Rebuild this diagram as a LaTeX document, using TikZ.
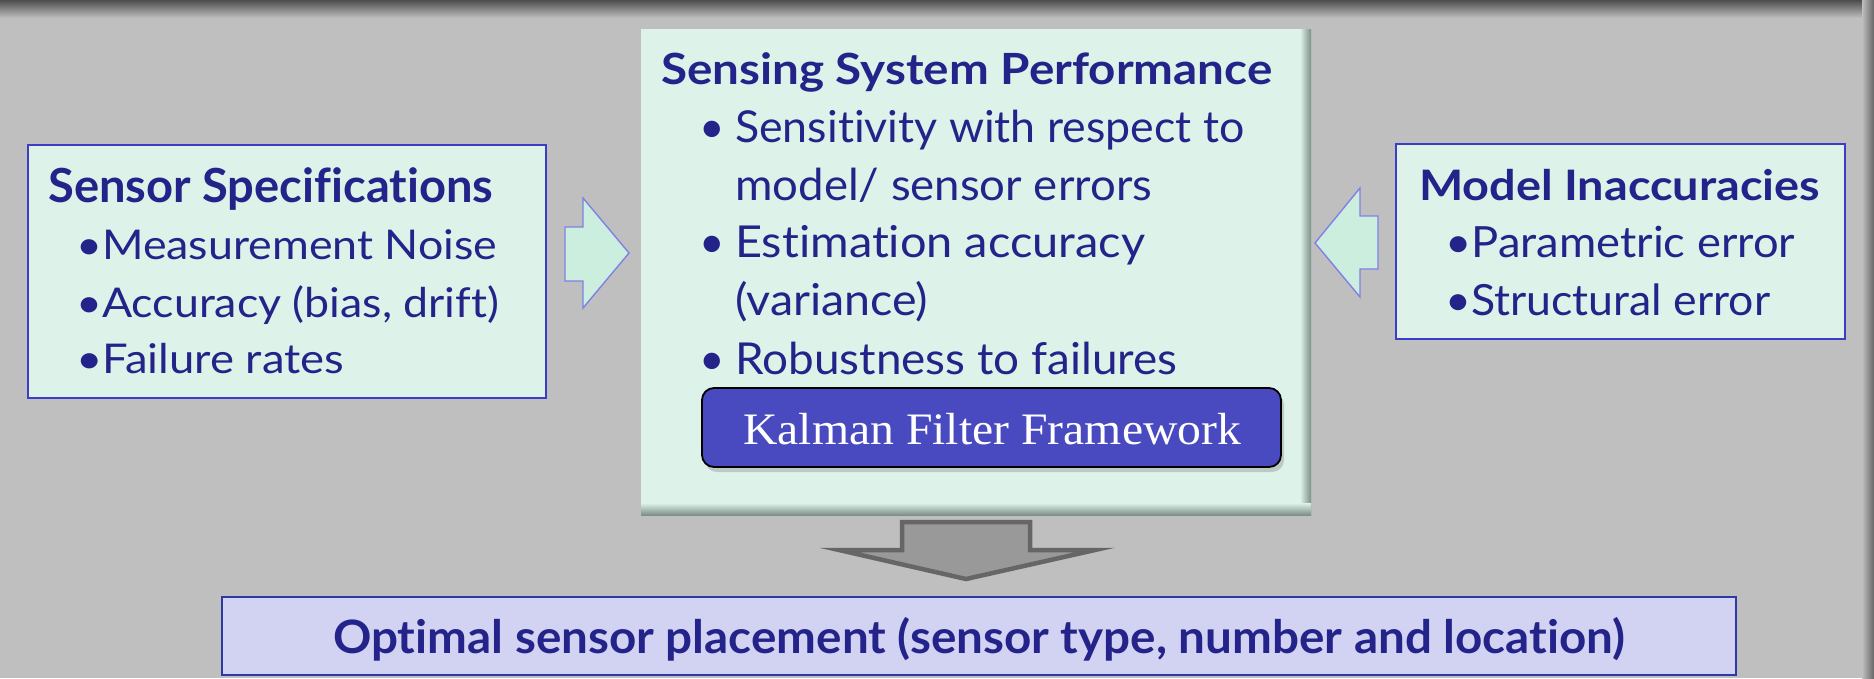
\documentclass[tikz,border=0pt]{standalone}
\usepackage{fontspec}
\usepackage{graphicx}
\setmainfont[Ligatures=NoCommon]{Lato}
\newfontfamily\kalfont{Liberation Serif}
\usetikzlibrary{shadows}
\definecolor{bg}{HTML}{BFBFBF}
\definecolor{navy}{HTML}{23238A}
\definecolor{mint}{HTML}{DDF2E9}
\definecolor{mintdark}{HTML}{7D8F86}
\definecolor{boxline}{HTML}{3C3CC8}
\definecolor{arrfill}{HTML}{CCEEDF}
\definecolor{arrline}{HTML}{8080E6}
\definecolor{kal}{HTML}{4A4AC0}
\definecolor{botfill}{HTML}{D2D2F3}
\definecolor{botline}{HTML}{2B3BA3}
\definecolor{darr}{HTML}{999999}
\definecolor{darrline}{HTML}{666666}
\newcommand\fw[2]{\resizebox{#1pt}{\height}{#2}}
\tikzset{
  sidebox/.style={draw=boxline, line width=1.6pt, fill=mint, inner sep=0pt},
  txt/.style={anchor=base west, inner sep=0pt, text=navy, font=\fontsize{44}{50}\selectfont},
  ttl/.style={txt, font=\fontsize{43}{50}\selectfont\bfseries},
  blockarrow/.style={fill=arrfill, draw=arrline, line width=1.4pt},
}
\begin{document}
\begin{tikzpicture}[x=1pt,y=-1pt]
\fill[bg] (0,0) rectangle (1874,678);
\useasboundingbox (0,0) rectangle (1874,678);
\shade[top color=black!70, bottom color=bg] (0,0) rectangle (1874,18);
\shade[left color=bg, right color=black!60] (1862,0) rectangle (1874,678);

% left box
\node[sidebox, minimum width=518pt, minimum height=253pt] (spec) at (287,271.5) {};
\node[ttl, font=\fontsize{47}{50}\selectfont\bfseries] (specT) at (48,202) {\fw{445}{Sensor Specifications}};
\node[txt, font=\fontsize{41}{50}\selectfont] (spec1) at (76,259) {\fw{421}{\textbullet Measurement Noise}};
\node[txt, font=\fontsize{41}{50}\selectfont] (spec2) at (76,317) {\fw{423}{\textbullet Accuracy (bias, drift)}};
\node[txt, font=\fontsize{41}{50}\selectfont] (spec3) at (76,373) {\fw{268}{\textbullet Failure rates}};

% center box
\fill[mint] (641,29) rectangle (1311,515);
\node[inner sep=0pt, minimum width=670pt, minimum height=486pt] (perf) at (976,272) {};
\shade[left color=mint, right color=mintdark] (1300,29) rectangle (1311,515);
\shade[top color=mint, bottom color=mintdark] (641,503) rectangle (1311,515);
\node[ttl] (perfT) at (661,84) {\fw{611}{Sensing System Performance}};
\node[txt] (b1) at (699,142) {\textbullet};
\node[txt] (p1) at (735,142) {\fw{509}{Sensitivity with respect to}};
\node[txt] (p1b) at (735,200) {\fw{417}{model/ sensor errors}};
\node[txt] (b2) at (699,257) {\textbullet};
\node[txt] (p2) at (735,257) {\fw{410}{Estimation accuracy}};
\node[txt] (p2b) at (735,315) {\fw{193}{(variance)}};
\node[txt] (b3) at (699,374) {\textbullet};
\node[txt] (p3) at (735,374) {\fw{442}{Robustness to failures}};
\node[draw=black, line width=1.8pt, fill=kal, rounded corners=12pt, minimum width=579pt, minimum height=79pt, inner sep=0pt,
      drop shadow={shadow xshift=3pt, shadow yshift=-5pt, opacity=0.35}] (kal) at (991.5,427.5) {};
\node[anchor=base west, inner sep=0pt, text=white, font=\kalfont\fontsize{45}{50}\selectfont] (kalT) at (743,444) {\fw{498}{Kalman Filter Framework}};

% right box
\node[sidebox, minimum width=449pt, minimum height=195pt] (model) at (1620.5,241.5) {};
\node[ttl, font=\fontsize{42}{50}\selectfont\bfseries] (modelT) at (1419,200) {\fw{401}{Model Inaccuracies}};
\node[txt, font=\fontsize{43}{50}\selectfont] (m1) at (1445,257) {\fw{350}{\textbullet Parametric error}};
\node[txt, font=\fontsize{43}{50}\selectfont] (m2) at (1445,315) {\fw{325}{\textbullet Structural error}};

% block arrows
\draw[blockarrow] (565,227) -- (583,227) -- (583,198) -- (629,253) -- (583,308) -- (583,281) -- (565,281) -- cycle;
\draw[blockarrow] (1378,216) -- (1360,216) -- (1360,188) -- (1315,243) -- (1360,297) -- (1360,269) -- (1378,269) -- cycle;

% down arrow
\draw[fill=darr, draw=darrline, line width=4.5pt] (902,522) -- (1030,522) -- (1030,550) -- (1095,550) -- (966,579) -- (839,550) -- (902,550) -- cycle;

% bottom box
\node[draw=botline, line width=2pt, fill=botfill, minimum width=1514pt, minimum height=78pt, inner sep=0pt] (opt) at (979,636) {};
\node[ttl, font=\fontsize{46}{50}\selectfont\bfseries] (optT) at (333,653) {\fw{1292}{Optimal sensor placement (sensor type, number and location)}};
\end{tikzpicture}
\end{document}
